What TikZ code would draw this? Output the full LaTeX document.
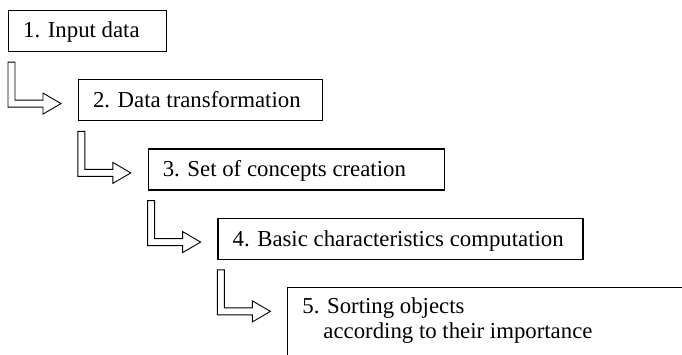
\documentclass[tikz,border=0pt]{standalone}
\usepackage{fontspec}
\setmainfont{Liberation Serif}
\usetikzlibrary{calc}
\tikzset{
  stagebox/.style={draw, line width=1.1pt, rectangle, inner sep=0pt, anchor=north west},
  stagetext/.style={anchor=base west, inner sep=0pt, font=\fontsize{22.8}{26}\selectfont},
  arrowline/.style={draw, line width=0.9pt, line join=miter},
  flowarrow/.pic={\path[arrowline] (0,0) -- (7,0) -- (7,38) -- (35,38) -- (35,31) -- (53,41.5) -- (35,52) -- (35,45) -- (0,45) -- cycle;}
}
\begin{document}
\begin{tikzpicture}[x=1pt,y=-1pt]
\useasboundingbox (0,0) rectangle (682,355);
\clip (0,0) rectangle (682,355);
\node[stagebox, minimum width=158pt, minimum height=41pt] (b1) at (8,10) {};
\node[stagebox, minimum width=244pt, minimum height=41pt] (b2) at (77.8,79.3) {};
\node[stagebox, minimum width=296pt, minimum height=41pt] (b3) at (147.6,148.5) {};
\node[stagebox, minimum width=365pt, minimum height=41pt] (b4) at (217.4,217.8) {};
\node[stagebox, minimum width=450pt, minimum height=120pt] (b5) at (287.2,287) {};
\node[stagetext] (t1) at ($(b1.north west)+(15,28)$) {1. Input data};
\node[stagetext] (t2) at ($(b2.north west)+(15,28.5)$) {2. Data transformation};
\node[stagetext] (t3) at ($(b3.north west)+(15,28.5)$) {3. Set of concepts creation};
\node[stagetext] (t4) at ($(b4.north west)+(15,28.5)$) {4. Basic characteristics computation};
\node[stagetext] (t5a) at ($(b5.north west)+(15,26.5)$) {5. Sorting objects};
\node[stagetext] (t5b) at ($(b5.north west)+(36,51.5)$) {according to their importance};
\foreach \b in {b1,b2,b3,b4}
  \pic at ($(\b.south west)+(0,10)$) {flowarrow};
\end{tikzpicture}
\end{document}
